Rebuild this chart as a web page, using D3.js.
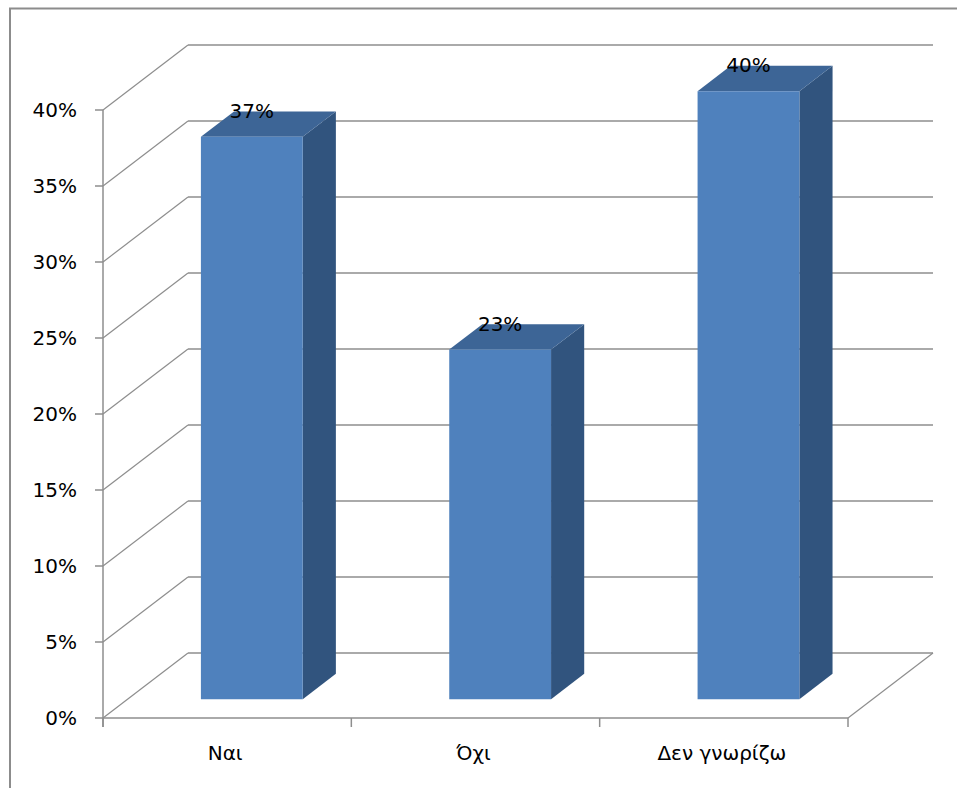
<!DOCTYPE html>
<html>
<head>
<meta charset="utf-8">
<script src="https://cdn.jsdelivr.net/npm/d3@7"></script>
<style>
  html, body { margin: 0; padding: 0; background: #fff; }
  svg { display: block; }
  text { font-family: "DejaVu Sans", sans-serif; fill: #000; }
</style>
</head>
<body>
<svg id="chart" width="957" height="788"></svg>
<script>
// Survey answers and their shares
const categories = ["Ναι", "Όχι", "Δεν γνωρίζω"];
const values = [0.37, 0.23, 0.40];
const yTickValues = [0, 0.05, 0.10, 0.15, 0.20, 0.25, 0.30, 0.35, 0.40];
const yTickLabels = ["0%", "5%", "10%", "15%", "20%", "25%", "30%", "35%", "40%"];
const valueLabels = ["37%", "23%", "40%"];

(function () {
  const svg = d3.select("#chart");

  // Frame around the chart area
  svg.append("rect")
    .attr("x", 10).attr("y", 8.5)
    .attr("width", 960).attr("height", 800)
    .attr("fill", "none").attr("stroke", "#8c8c8c").attr("stroke-width", 2);

  // Front plane of the 3D box, plus the oblique depth offset
  const plotLeft = 103, plotRight = 848, plotBottom = 718, plotTop = 110;
  const DX = 85, DY = -65;
  const D0 = 0.29, D1 = 0.68;   // bar depth span inside the box

  const y = d3.scaleLinear().domain([0, 0.40]).range([plotBottom, plotTop]);
  const x = d3.scaleBand().domain(categories).range([plotLeft, plotRight])
    .paddingInner(0.59).paddingOuter(0.295);
  const slot = d3.scaleBand().domain(categories).range([plotLeft, plotRight]).padding(0);

  const P = (px, py, d) => [px + d * DX, py + d * DY];
  const line = d3.line();

  const grid = svg.append("g").attr("fill", "none").attr("stroke", "#8e8e8e");

  // Side-wall diagonals and back-wall gridlines
  yTickValues.forEach(t => {
    const yy = y(t);
    grid.append("path")
      .attr("stroke-width", 1.2)
      .attr("d", line([[plotLeft, yy], P(plotLeft, yy, 1)]));
    grid.append("path")
      .attr("stroke-width", 1.6)
      .attr("d", line([P(plotLeft, yy, 1), P(plotRight, yy, 1)]));
  });

  // Floor edges
  grid.append("path").attr("stroke-width", 1.4)
    .attr("d", line([[plotLeft, plotBottom], [plotRight, plotBottom]]));
  grid.append("path").attr("stroke-width", 1.2)
    .attr("d", line([[plotRight, plotBottom], P(plotRight, plotBottom, 1)]));

  // Value axis
  const axis = svg.append("g").attr("stroke", "#8e8e8e").attr("stroke-width", 1.5);
  axis.append("line")
    .attr("x1", plotLeft).attr("x2", plotLeft)
    .attr("y1", y(0.40)).attr("y2", plotBottom + 9);
  yTickValues.forEach(t => {
    axis.append("line")
      .attr("x1", plotLeft - 8).attr("x2", plotLeft)
      .attr("y1", y(t)).attr("y2", y(t));
  });
  svg.append("g").selectAll("text")
    .data(yTickValues)
    .join("text")
    .attr("x", 77)
    .attr("y", d => y(d))
    .attr("dy", "0.36em")
    .attr("text-anchor", "end")
    .attr("font-size", 20)
    .text((d, i) => yTickLabels[i]);

  // Category axis ticks at slot boundaries
  const boundaries = categories.map(c => slot(c)).concat([plotRight]);
  boundaries.forEach(bx => {
    axis.append("line")
      .attr("x1", bx).attr("x2", bx)
      .attr("y1", plotBottom).attr("y2", plotBottom + 9);
  });
  svg.append("g").selectAll("text")
    .data(categories)
    .join("text")
    .attr("x", d => slot(d) + slot.bandwidth() / 2 - 2)
    .attr("y", 760)
    .attr("text-anchor", "middle")
    .attr("font-size", 20)
    .text(d => d);

  // 3D bars: side, top and front faces
  const bars = svg.append("g");
  categories.forEach((c, i) => {
    const x0 = x(c), x1 = x(c) + x.bandwidth();
    const yv = y(values[i]), y0 = y(0);
    const g = bars.append("g");
    g.append("path").attr("fill", "#31547e")
      .attr("d", line([P(x1, yv, D0), P(x1, y0, D0), P(x1, y0, D1), P(x1, yv, D1)]) + "Z");
    g.append("path").attr("fill", "#3d6596")
      .attr("d", line([P(x0, yv, D0), P(x1, yv, D0), P(x1, yv, D1), P(x0, yv, D1)]) + "Z");
    g.append("path").attr("fill", "#4f81bd")
      .attr("d", line([P(x0, yv, D0), P(x1, yv, D0), P(x1, y0, D0), P(x0, y0, D0)]) + "Z");
    const [lx, ly] = P((x0 + x1) / 2, yv, D0);
    g.append("text")
      .attr("x", lx).attr("y", ly - 19)
      .attr("text-anchor", "middle")
      .attr("font-size", 20)
      .text(valueLabels[i]);
  });
})();
</script>
</body>
</html>
